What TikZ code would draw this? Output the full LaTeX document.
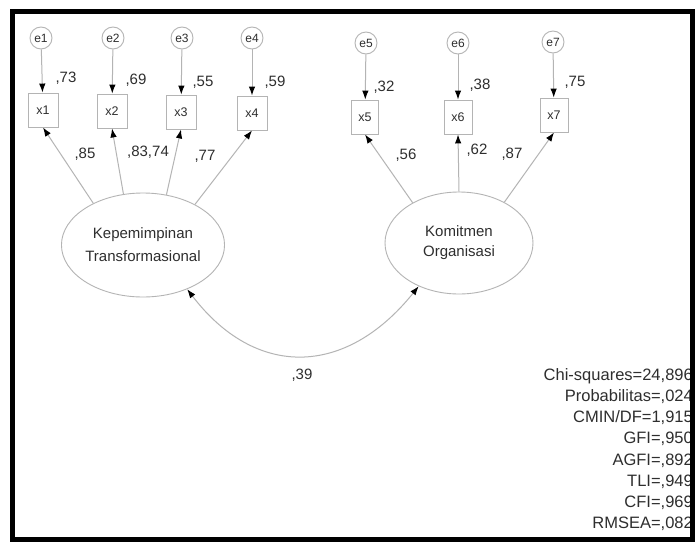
\documentclass[tikz,border=0pt]{standalone}
\usepackage{fontspec}
\setmainfont{Liberation Sans}
\usetikzlibrary{arrows.meta,shapes.geometric}
\definecolor{linegray}{HTML}{B4B4B4}
\definecolor{txt}{HTML}{2E2E2E}
\begin{document}
\begin{tikzpicture}[x=1pt,y=-1pt,
  err/.style={circle,draw=linegray,line width=0.9pt,minimum size=22pt,inner sep=0pt,
    font=\fontsize{12}{12}\selectfont,text=txt},
  obs/.style={rectangle,draw=linegray,line width=0.9pt,minimum width=30pt,minimum height=34pt,
    inner sep=0pt,font=\fontsize{12.5}{13}\selectfont,text=txt},
  lat/.style={ellipse,draw=linegray,line width=0.9pt,inner sep=0pt,align=center,text=txt},
  conn/.style={draw=linegray,line width=1pt,-{Latex[length=9pt,width=6.5pt,color=black]}},
  cov/.style={draw=linegray,line width=1pt,
    {Latex[length=9pt,width=6.5pt,color=black]}-{Latex[length=9pt,width=6.5pt,color=black]}},
  lbl/.style={font=\fontsize{15}{15}\selectfont,text=txt,inner sep=0pt},
  fitline/.style={font=\fontsize{16.5}{17}\selectfont,text=txt,anchor=east,inner sep=0pt}
]
\fill[white] (0,0) rectangle (697,544);
\useasboundingbox (0,0) rectangle (697,544);

% error terms
\node[err] (e1) at (41,38) {e1};
\node[err] (e2) at (113,38) {e2};
\node[err] (e3) at (182,38) {e3};
\node[err] (e4) at (252,38) {e4};
\node[err] (e5) at (366,43) {e5};
\node[err] (e6) at (458,43) {e6};
\node[err] (e7) at (553,42) {e7};

% observed indicators
\node[obs] (x1) at (43,110) {x1};
\node[obs] (x2) at (112,111) {x2};
\node[obs] (x3) at (181,112) {x3};
\node[obs] (x4) at (252,113) {x4};
\node[obs,minimum width=27pt] (x5) at (365,117) {x5};
\node[obs,minimum width=28pt] (x6) at (458,117) {x6};
\node[obs,minimum width=28pt] (x7) at (554,115) {x7};

% latent constructs
\node[lat,minimum width=150pt,minimum height=104pt,font=\fontsize{15}{23}\selectfont]
  (K) at (143,245) {Kepemimpinan\\Transformasional};
\node[lat,minimum width=148pt,minimum height=102pt,font=\fontsize{15}{20}\selectfont]
  (O) at (459,243) {Komitmen\\Organisasi};

% error paths
\foreach \i in {1,...,7} {\draw[conn] (e\i) -- (x\i);}

% loadings
\draw[conn] (K.140) -- (x1.south);
\draw[conn] (K.111) -- (x2.south);
\draw[conn] (K.65) -- (x3.south);
\draw[conn] (K.38) -- (x4.south);
\draw[conn] (O.139) -- (x5.south);
\draw[conn] (O.90) -- (x6.south);
\draw[conn] (O.42) -- (x7.south);

% covariance
\draw[cov] (K.-45) .. controls (255,378) and (345,378) .. (O.227);

% coefficients
\node[lbl] (r1) at (66,78) {,73};
\node[lbl] (r2) at (136,80) {,69};
\node[lbl] (r3) at (203,82) {,55};
\node[lbl] (r4) at (275,82) {,59};
\node[lbl] (r5) at (384,87) {,32};
\node[lbl] (r6) at (480,85) {,38};
\node[lbl] (r7) at (575,82) {,75};
\node[lbl] (w1) at (85,154) {,85};
\node[lbl] (w23) at (148,152) {,83,74};
\node[lbl] (w4) at (205,156) {,77};
\node[lbl] (w5) at (406,155) {,56};
\node[lbl] (w6) at (477,150) {,62};
\node[lbl] (w7) at (512,154) {,87};
\node[lbl] (c1) at (302,375) {,39};

% fit statistics
\node[fitline] (s1) at (693,376) {Chi-squares=24,896};
\node[fitline] (s2) at (693,397) {Probabilitas=,024};
\node[fitline] (s3) at (693,418) {CMIN/DF=1,915};
\node[fitline] (s4) at (693,439) {GFI=,950};
\node[fitline] (s5) at (693,461) {AGFI=,892};
\node[fitline] (s6) at (693,482) {TLI=,949};
\node[fitline] (s7) at (693,503) {CFI=,969};
\node[fitline] (s8) at (693,524) {RMSEA=,082};

% frame
\draw[line width=5pt] (12.5,11.5) rectangle (692,539);
\end{tikzpicture}
\end{document}
